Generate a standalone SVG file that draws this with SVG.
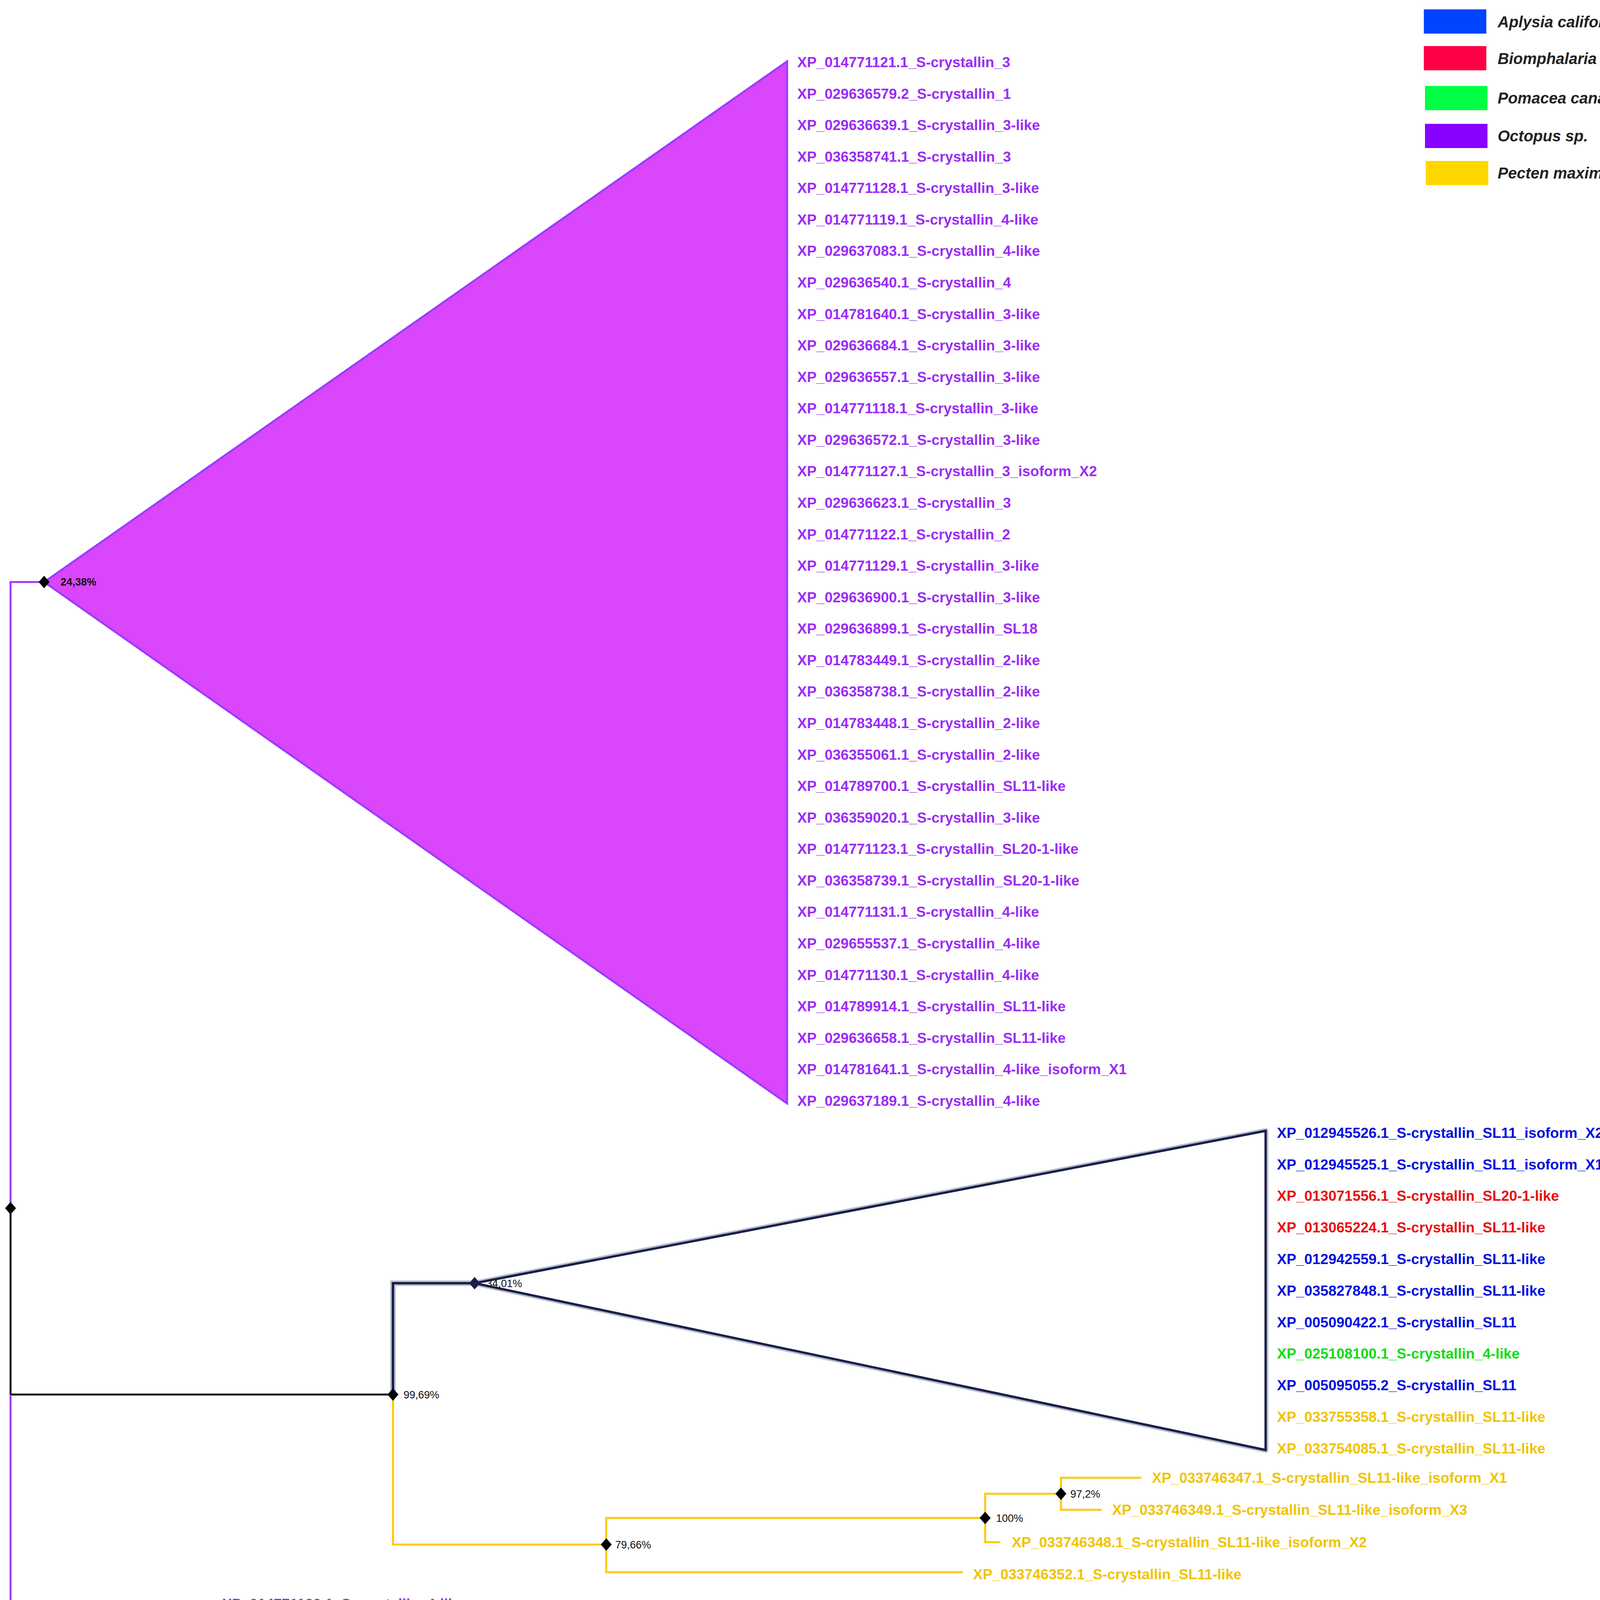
<svg xmlns="http://www.w3.org/2000/svg" width="4279" height="4357" viewBox="0 0 4279 4357">
<style>
.l{font-family:"Liberation Sans",Arial,sans-serif;font-size:37px;font-weight:bold;dominant-baseline:central}
.p{fill:#9a2cf5}.b{fill:#0010e0}.r{fill:#e81010}.g{fill:#10dd10}.y{fill:#efc300}
.s{font-family:"Liberation Sans",Arial,sans-serif;font-size:27px;fill:#111}
.lg{font-family:"Liberation Sans",Arial,sans-serif;font-size:40px;font-style:italic;font-weight:bold;fill:#222;dominant-baseline:central}
.d{fill:#000}
</style>
<defs><path id="dm" d="M0,-16 L14,0 L0,16 L-14,0Z"/></defs>
<rect width="4279" height="4357" fill="#fff"/>
<g id="connectors" fill="none" stroke-width="5">
<path d="M27,3093 V1490 H113" stroke="#9a3bff"/>
<path d="M27,3093 V3570 H1006" stroke="#111"/>
<path d="M27,3570 V4147 H297" stroke="#9a3bff"/>
<path d="M297,4147 V4106 H542 M297,4147 V4200" stroke="#9a3bff"/>
<path d="M1006,3570 V3285 H1215" stroke="#b8bccc" stroke-width="14"/>
<path d="M1006,3570 V3285 H1215" stroke="#1a1f4a" stroke-width="6"/>
<path d="M1006,3570 V3954 H1552" stroke="#ffc800"/>
<path d="M1552,3954 V3886 H2522 M1552,3954 V4025 H2465" stroke="#ffc800"/>
<path d="M2522,3886 V3824 H2716 M2522,3886 V3948 H2561" stroke="#ffc800"/>
<path d="M2716,3824 V3783 H2922 M2716,3824 V3865 H2820" stroke="#ffc800"/>
<path d="M1243,4274 H2026" stroke="#000" stroke-width="6"/>
</g>
<g id="clade-octopus">
<polygon points="113,1490 2015,157 2015,2825" fill="#d946fb" stroke="#9a3bff" stroke-width="5"/>
</g>
<g id="clade-mixed">
<polygon points="1215,3285 3240,2895 3240,3712" fill="#fff" stroke="#b8bccc" stroke-width="14" stroke-linejoin="round"/>
<polygon points="1215,3285 3240,2895 3240,3712" fill="#fff" stroke="#1a1f4a" stroke-width="6"/>
</g>
<g id="nodes">
<use href="#dm" x="113" y="1490" class="d"/><text class="s" x="155" y="1499" font-weight="bold">24,38%</text>
<use href="#dm" x="27" y="3093" class="d"/>
<use href="#dm" x="1006" y="3570" class="d"/><text class="s" x="1033" y="3580">99,69%</text>
<use href="#dm" x="1215" y="3285" fill="#1a1f4a"/><text class="s" x="1245" y="3295" fill="#555">34,01%</text>
<use href="#dm" x="1552" y="3954" class="d"/><text class="s" x="1575" y="3964">79,66%</text>
<use href="#dm" x="2522" y="3886" class="d"/><text class="s" x="2550" y="3896">100%</text>
<use href="#dm" x="2716" y="3824" class="d"/><text class="s" x="2740" y="3834">97,2%</text>
<use href="#dm" x="297" y="4147" class="d"/><text class="s" x="325" y="4158">99,84%</text>
<text class="s" x="1634" y="4335" font-family="Liberation Serif" font-size="34" text-anchor="middle">0.5</text>
</g>
<g id="labels-octopus" class="l p">
<text x="2041" y="159">XP_014771121.1_S-crystallin_3</text>
<text x="2041" y="240">XP_029636579.2_S-crystallin_1</text>
<text x="2041" y="320">XP_029636639.1_S-crystallin_3-like</text>
<text x="2041" y="401">XP_036358741.1_S-crystallin_3</text>
<text x="2041" y="481">XP_014771128.1_S-crystallin_3-like</text>
<text x="2041" y="562">XP_014771119.1_S-crystallin_4-like</text>
<text x="2041" y="642">XP_029637083.1_S-crystallin_4-like</text>
<text x="2041" y="723">XP_029636540.1_S-crystallin_4</text>
<text x="2041" y="804">XP_014781640.1_S-crystallin_3-like</text>
<text x="2041" y="884">XP_029636684.1_S-crystallin_3-like</text>
<text x="2041" y="965">XP_029636557.1_S-crystallin_3-like</text>
<text x="2041" y="1045">XP_014771118.1_S-crystallin_3-like</text>
<text x="2041" y="1126">XP_029636572.1_S-crystallin_3-like</text>
<text x="2041" y="1206">XP_014771127.1_S-crystallin_3_isoform_X2</text>
<text x="2041" y="1287">XP_029636623.1_S-crystallin_3</text>
<text x="2041" y="1368">XP_014771122.1_S-crystallin_2</text>
<text x="2041" y="1448">XP_014771129.1_S-crystallin_3-like</text>
<text x="2041" y="1529">XP_029636900.1_S-crystallin_3-like</text>
<text x="2041" y="1609">XP_029636899.1_S-crystallin_SL18</text>
<text x="2041" y="1690">XP_014783449.1_S-crystallin_2-like</text>
<text x="2041" y="1770">XP_036358738.1_S-crystallin_2-like</text>
<text x="2041" y="1851">XP_014783448.1_S-crystallin_2-like</text>
<text x="2041" y="1932">XP_036355061.1_S-crystallin_2-like</text>
<text x="2041" y="2012">XP_014789700.1_S-crystallin_SL11-like</text>
<text x="2041" y="2093">XP_036359020.1_S-crystallin_3-like</text>
<text x="2041" y="2173">XP_014771123.1_S-crystallin_SL20-1-like</text>
<text x="2041" y="2254">XP_036358739.1_S-crystallin_SL20-1-like</text>
<text x="2041" y="2334">XP_014771131.1_S-crystallin_4-like</text>
<text x="2041" y="2415">XP_029655537.1_S-crystallin_4-like</text>
<text x="2041" y="2496">XP_014771130.1_S-crystallin_4-like</text>
<text x="2041" y="2576">XP_014789914.1_S-crystallin_SL11-like</text>
<text x="2041" y="2657">XP_029636658.1_S-crystallin_SL11-like</text>
<text x="2041" y="2737">XP_014781641.1_S-crystallin_4-like_isoform_X1</text>
<text x="2041" y="2818">XP_029637189.1_S-crystallin_4-like</text>
</g>
<g id="labels-mixed" class="l">
<text class="b" x="3269" y="2900">XP_012945526.1_S-crystallin_SL11_isoform_X2</text>
<text class="b" x="3269" y="2981">XP_012945525.1_S-crystallin_SL11_isoform_X1</text>
<text class="r" x="3269" y="3061">XP_013071556.1_S-crystallin_SL20-1-like</text>
<text class="r" x="3269" y="3142">XP_013065224.1_S-crystallin_SL11-like</text>
<text class="b" x="3269" y="3223">XP_012942559.1_S-crystallin_SL11-like</text>
<text class="b" x="3269" y="3304">XP_035827848.1_S-crystallin_SL11-like</text>
<text class="b" x="3269" y="3385">XP_005090422.1_S-crystallin_SL11</text>
<text class="g" x="3269" y="3465">XP_025108100.1_S-crystallin_4-like</text>
<text class="b" x="3269" y="3546">XP_005095055.2_S-crystallin_SL11</text>
<text class="y" x="3269" y="3627">XP_033755358.1_S-crystallin_SL11-like</text>
<text class="y" x="3269" y="3708">XP_033754085.1_S-crystallin_SL11-like</text>
</g>
<g id="labels-pecten" class="l y">
<text x="2949" y="3783">XP_033746347.1_S-crystallin_SL11-like_isoform_X1</text>
<text x="2847" y="3865">XP_033746349.1_S-crystallin_SL11-like_isoform_X3</text>
<text x="2590" y="3948">XP_033746348.1_S-crystallin_SL11-like_isoform_X2</text>
<text x="2491" y="4030">XP_033746352.1_S-crystallin_SL11-like</text>
</g>
<g id="labels-bottom" class="l p">
<text x="569" y="4106">XP_014771120.1_S-crystallin_4-like</text>
<text x="324" y="4190">XP_036358740.1_S-crystallin_4-like</text>
</g>
<g id="legend">
<rect x="3645" y="24" width="160" height="62" fill="#0044ff"/><text class="lg" x="3834" y="56">Aplysia californica</text>
<rect x="3645" y="118" width="160" height="62" fill="#ff0044"/><text class="lg" x="3834" y="150">Biomphalaria glabrata</text>
<rect x="3648" y="220" width="160" height="62" fill="#00ff44"/><text class="lg" x="3834" y="251">Pomacea canaliculata</text>
<rect x="3648" y="317" width="160" height="62" fill="#8800ff"/><text class="lg" x="3834" y="348">Octopus sp.</text>
<rect x="3650" y="412" width="160" height="62" fill="#ffd700"/><text class="lg" x="3834" y="443">Pecten maximus</text>
</g>
</svg>
